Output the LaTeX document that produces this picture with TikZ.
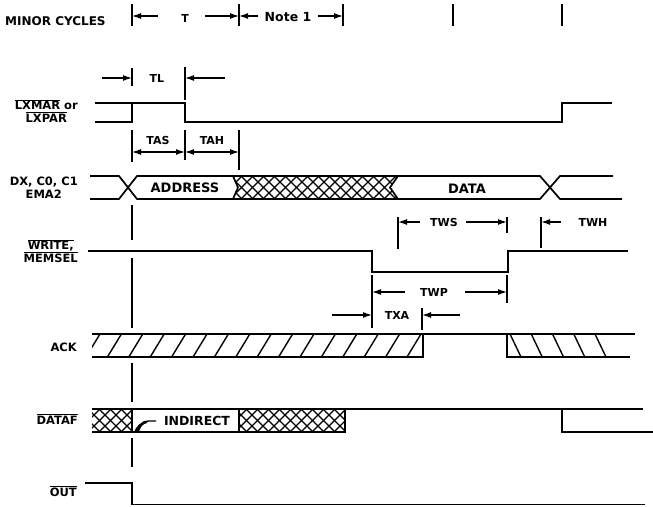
\documentclass[tikz,border=0pt]{standalone}
\usepackage{fontspec}
\setmainfont{DejaVu Sans}
\usetikzlibrary{arrows.meta}
\newcommand{\ovl}[1]{$\overline{\mbox{#1}}$}

\begin{document}
\begin{tikzpicture}[x=1pt, y=-1pt,
    sig/.style={line width=1.7pt},
    tk/.style={line width=1.4pt},
    dim/.style={line width=1.3pt, -{Latex[length=9pt,width=6pt]}},
    dimboth/.style={line width=1.3pt, {Latex[length=9pt,width=6pt]}-{Latex[length=9pt,width=6pt]}},
    hatch/.style={line width=1.2pt},
    lbl/.style={font=\fontsize{11.5}{12.5}\selectfont\bfseries, anchor=east, align=center, inner sep=0pt},
    txt/.style={font=\fontsize{11}{12}\selectfont\bfseries, inner sep=0pt},
    bustxt/.style={font=\fontsize{13}{14}\selectfont\bfseries, inner sep=0pt}]
    \useasboundingbox (0,0) rectangle (653,506);

    \node[txt, font=\fontsize{12}{13}\selectfont\bfseries, anchor=west] (minor) at (5,21) {MINOR CYCLES};
    \foreach \x in {132,239,343,453,562}
        \draw[tk] (\x,4) -- (\x,26);
    \draw[dim] (158,16) -- (132,16);
    \node[txt] (tT) at (185,18) {T};
    \draw[dim] (205,16) -- (239,16);
    \draw[dim] (258,16) -- (239,16);
    \node[txt, font=\fontsize{12.5}{13}\selectfont\bfseries] (note) at (288,17) {Note 1};
    \draw[dim] (318,16) -- (343,16);

    \node[lbl] (lxmar) at (78,111) {\ovl{LXMAR} or\\\ovl{LXPAR}};
    \draw[sig] (95,103) -- (132,103);
    \draw[sig] (95,122) -- (132,122) -- (132,103) -- (185,103) -- (185,122) -- (562,122) -- (562,103) -- (612,103);
    \draw[tk] (132,68) -- (132,86);
    \draw[tk] (185,67) -- (185,100);
    \draw[dim] (102,78) -- (132,78);
    \node[txt] (tl) at (157,78) {TL};
    \draw[dim] (225,78) -- (185,78);

    \draw[tk] (132,130) -- (132,162);
    \draw[tk] (185,130) -- (185,160);
    \draw[tk] (239,130) -- (239,170);
    \node[txt] (tas) at (158,140) {TAS};
    \node[txt] (tah) at (212,140) {TAH};
    \draw[dimboth] (132,152) -- (185,152);
    \draw[dimboth] (185,152) -- (239,152);

    \node[lbl] (dx) at (78,187.5) {DX, C0, C1\\EMA2};
    \draw[sig] (90,176) -- (119,176) -- (137,199) -- (233,199) -- (238,187.5) -- (233,176) -- (137,176) -- (119,199) -- (90,199);
    \node[bustxt] (addr) at (185,188) {ADDRESS};
    \begin{scope}
        \clip (233,176) -- (398,176) -- (390,187.5) -- (398,199) -- (233,199) -- (238,187.5) -- cycle;
        \foreach \k in {0,...,18} {
            \draw[hatch] ({208+11*\k},199) -- ++(23,-23);
            \draw[hatch] ({208+11*\k},176) -- ++(23,23);
        }
    \end{scope}
    \draw[sig] (233,176) -- (398,176);
    \draw[sig] (233,199) -- (398,199);
    \draw[sig] (398,176) -- (390,187.5) -- (398,199) -- (540,199) -- (560,176) -- (613,176);
    \draw[sig] (398,176) -- (540,176) -- (560,199) -- (622,199);
    \node[bustxt] (data) at (467,189) {DATA};

    \draw[tk] (132,205) -- (132,240);
    \draw[tk] (132,258) -- (132,328);
    \draw[tk] (132,363) -- (132,402);
    \draw[tk] (132,438) -- (132,467);

    \node[lbl] (write) at (78,251) {\ovl{WRITE,}\\\ovl{MEMSEL}};
    \draw[sig] (88,251) -- (372,251) -- (372,272) -- (508,272) -- (508,251) -- (628,251);
    \draw[tk] (398,217) -- (398,249);
    \draw[tk] (507,217) -- (507,233);
    \draw[tk] (541,217) -- (541,248);
    \draw[dim] (420,222) -- (398,222);
    \node[txt] (tws) at (444,222) {TWS};
    \draw[dim] (466,222) -- (507,222);
    \draw[dim] (561,222) -- (541,222);
    \node[txt] (twh) at (593,222) {TWH};

    \draw[tk] (372,275) -- (372,328);
    \draw[tk] (507,275) -- (507,303);
    \draw[dim] (405,292) -- (372,292);
    \node[txt] (twp) at (434,292) {TWP};
    \draw[dim] (465,292) -- (507,292);
    \draw[dim] (332,315) -- (372,315);
    \node[txt] (txa) at (397,315) {TXA};
    \draw[tk] (422,308) -- (422,330);
    \draw[dim] (460,315) -- (422,315);

    \node[lbl] (ack) at (77,347) {ACK};
    \begin{scope}
        \clip (92,334) rectangle (423,357);
        \foreach \k in {0,...,15}
            \draw[line width=1.4pt] ({86+21.4*\k},357) -- ++(14,-23);
    \end{scope}
    \foreach \k in {0,...,4}
        \draw[line width=1.4pt] ({510+21.25*\k},334) -- ++(11,23);
    \draw[sig] (92,334) -- (635,334);
    \draw[sig] (92,357) -- (423,357) -- (423,334);
    \draw[sig] (507,334) -- (507,357) -- (630,357);

    \node[lbl] (dataf) at (78,419) {\ovl{DATAF}};
    \begin{scope}
        \clip (92,409) rectangle (132,432);
        \foreach \k in {0,...,7} {
            \draw[hatch] ({66+11*\k},432) -- ++(23,-23);
            \draw[hatch] ({66+11*\k},409) -- ++(23,23);
        }
    \end{scope}
    \begin{scope}
        \clip (239,409) rectangle (345,432);
        \foreach \k in {0,...,12} {
            \draw[hatch] ({213+11*\k},432) -- ++(23,-23);
            \draw[hatch] ({213+11*\k},409) -- ++(23,23);
        }
    \end{scope}
    \draw[sig] (92,409) -- (643,409);
    \draw[sig] (92,432) -- (345,432) -- (345,409);
    \draw[sig] (132,409) -- (132,432);
    \draw[sig] (239,409) -- (239,432);
    \draw[sig] (562,409) -- (562,432) -- (653,432);
    \fill (134,432) .. controls (137,425) and (141,422) .. (147,421) -- (147,423) .. controls (142,424) and (140,428) .. (139,432) -- cycle;
    \draw[line width=1.3pt] (140,425) .. controls (142,422) and (145,421) .. (150,421) -- (156,421);
    \node[bustxt, font=\fontsize{12.5}{13}\selectfont\bfseries] (indir) at (197,421) {INDIRECT};

    \node[lbl] (out) at (77,491) {\ovl{OUT}};
    \draw[sig] (85,483) -- (132,483) -- (132,504.5) -- (645,504.5);
\end{tikzpicture}
\end{document}
